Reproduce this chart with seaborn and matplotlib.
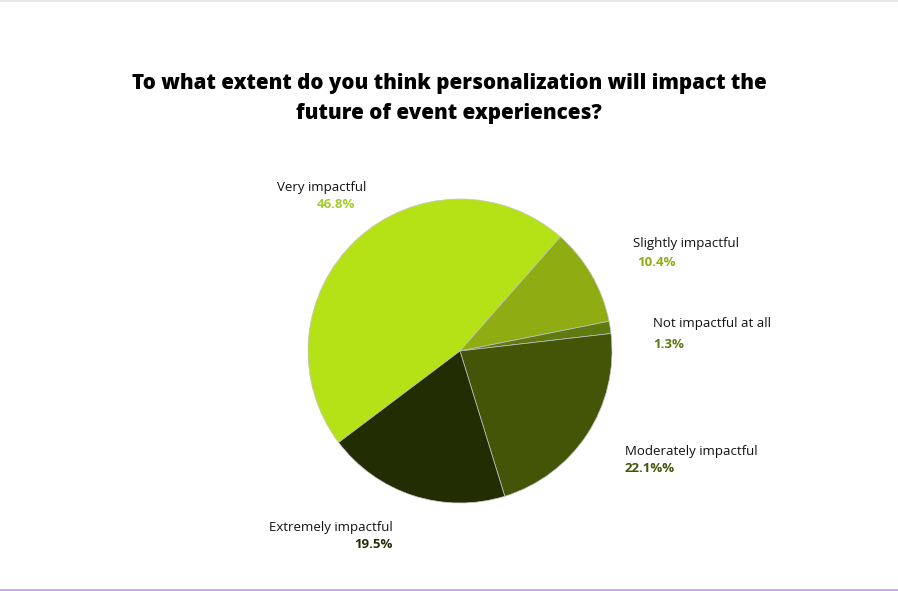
import matplotlib
matplotlib.use("Agg")
import matplotlib.pyplot as plt
import seaborn as sns
from matplotlib.lines import Line2D

categories = ["Very impactful", "Slightly impactful", "Not impactful at all",
              "Moderately impactful", "Extremely impactful"]
values = [46.8, 10.4, 1.3, 22.1, 19.5]
value_labels = ["46.8%", "10.4%", "1.3%", "22.1%%", "19.5%"]
colors = ["#b5e216", "#8fad12", "#5f7a10", "#435608", "#222d04"]
pct_colors = ["#a3cc2a", "#8fad12", "#5f7a10", "#435608", "#222d04"]
title = "To what extent do you think personalization will impact the\nfuture of event experiences?"

sns.set_theme(style="white")
plt.rcParams['font.family'] = ['Open Sans', 'DejaVu Sans']

W, H = 898, 591
fig = plt.figure(figsize=(W / 100, H / 100), dpi=100)
fig.patch.set_facecolor("white")
ax = fig.add_axes([0, 0, 1, 1])

cx, cy, r = 460, H - 351, 152
ax.pie(values, colors=colors, startangle=217, counterclock=False,
       center=(cx, cy), radius=r, frame=True,
       wedgeprops=dict(edgecolor="#c4c4c4", linewidth=0.5))
ax.set_xlim(0, W)
ax.set_ylim(0, H)
ax.set_aspect("auto")
ax.axis("off")

# label anchor positions (pixel coords, y from top) and alignment
label_pos = [(277, 187, "left"), (633, 243, "left"), (653, 323, "left"),
             (625, 451, "left"), (393, 527, "right")]
pct_pos = [(317, 204, "left"), (637, 262, "left"), (653, 345, "left"),
           (625, 469, "left"), (393, 545, "right")]

for cat, vl, pc, (lx, ly, la), (px, py, pa) in zip(categories, value_labels, pct_colors, label_pos, pct_pos):
    ax.text(lx, H - ly, cat, ha=la, va="center", fontsize=9.5, color="#111111")
    ax.text(px, H - py, vl, ha=pa, va="center", fontsize=9.5, color=pc, fontweight="bold")

fig.text(449 / W, 1 - 98.5 / H, title, ha="center", va="center", fontsize=14.8,
         fontweight="heavy", color="#000000", linespacing=1.6)

fig.add_artist(Line2D([0, 1], [1 - 0.8 / H, 1 - 0.8 / H], color="#e3e3e3", lw=1.2))
fig.add_artist(Line2D([0, 1], [1.5 / H, 1.5 / H], color="#c8a8f5", lw=1.5))

fig.savefig("out.png", dpi=100, facecolor="white")
